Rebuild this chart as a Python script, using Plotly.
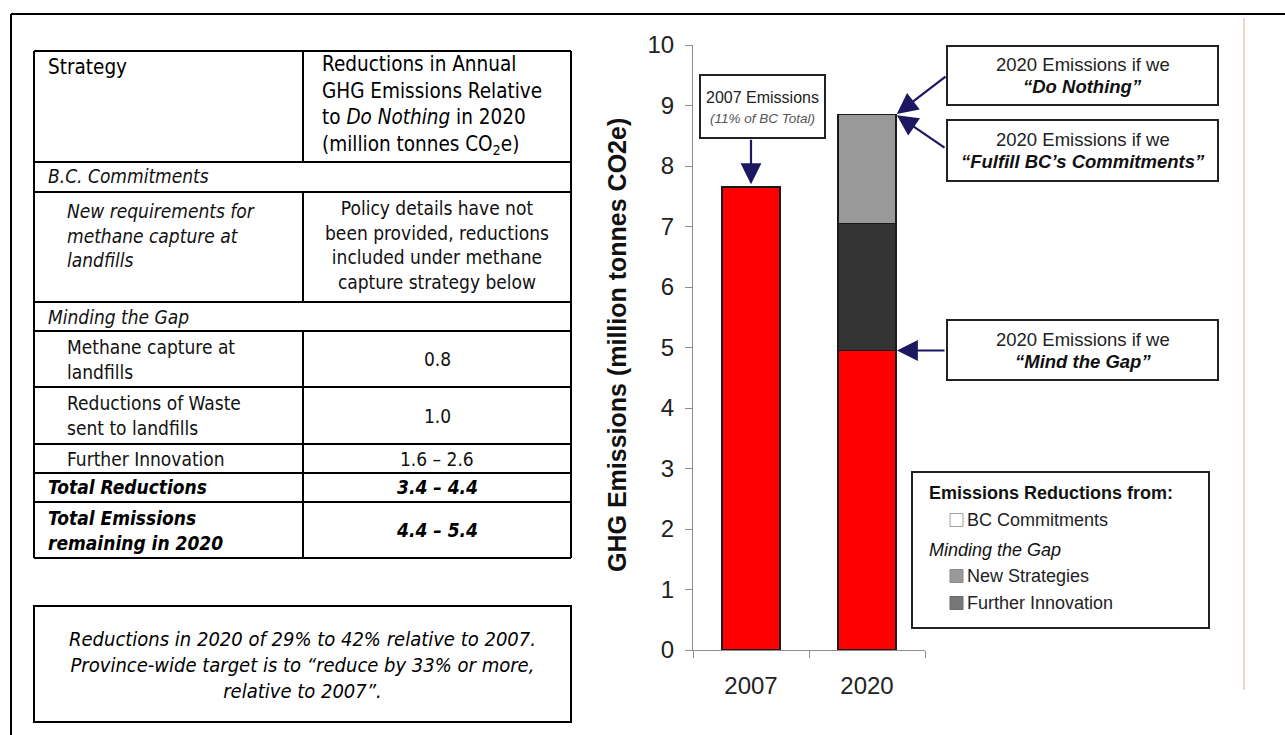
import plotly.graph_objects as go

W, H = 1285, 735

# ---- chart data (million tonnes CO2e) ----
years = ["2007", "2020"]
remaining = [7.65, 4.95]            # emissions left after all measures
further_innovation = [None, 2.1]    # reductions from further innovation
new_strategies = [None, 1.8]        # methane capture 0.8 + waste reduction 1.0
y_ticks = [0, 1, 2, 3, 4, 5, 6, 7, 8, 9, 10]

# ---- table content ----
header_left = "Strategy"
header_right = ("Reductions in Annual<br>GHG Emissions Relative<br>"
                "to <i>Do Nothing</i> in 2020<br>(million tonnes CO<sub>2</sub>e)")
section_titles = ["B.C. Commitments", "Minding the Gap"]
strategies = ["New requirements for<br>methane capture at<br>landfills",
              "Methane capture at<br>landfills",
              "Reductions of Waste<br>sent to landfills",
              "Further Innovation"]
strategy_reductions = ["Policy details have not<br>been provided, reductions<br>"
                       "included under methane<br>capture strategy below",
                       "0.8", "1.0", "1.6 – 2.6"]
total_labels = ["Total Reductions", "Total Emissions<br>remaining in 2020"]
total_values = ["3.4 – 4.4", "4.4 – 5.4"]
summary_note = ("Reductions in 2020 of 29% to 42% relative to 2007.<br>"
                "Province-wide target is to “reduce by 33% or more,<br>"
                "relative to 2007”.")

legend_title = "Emissions Reductions from:"
legend_group = "Minding the Gap"
legend_items = ["BC Commitments", "New Strategies", "Further Innovation"]

NARROW = "Liberation Sans Narrow, Arial Narrow, DejaVu Sans Condensed, sans-serif"
SANS = "Liberation Sans, Arial, Helvetica, sans-serif"
NAVY = "#1d1660"
RED = "#ff0000"
DARK = "#333333"
LIGHT = "#999999"


def px(x):
    return x / W


def py(y):
    return 1 - y / H


def label(x, y, s, size, anchor="center", color="#000", bold=False,
          italic=False, family=NARROW, angle=0):
    return dict(x=px(x), y=py(y), xref="paper", yref="paper", text=s,
                showarrow=False, xanchor=anchor, yanchor="middle",
                align=anchor if anchor != "center" else "center",
                textangle=angle, borderpad=0,
                font=dict(family=family, size=size, color=color,
                          weight="bold" if bold else "normal",
                          style="italic" if italic else "normal"))


def hline(x0, x1, y, color="#000", width=2):
    return dict(type="line", xref="paper", yref="paper", x0=px(x0), x1=px(x1),
                y0=py(y), y1=py(y), line=dict(color=color, width=width))


def vline(x, y0, y1, color="#000", width=2):
    return dict(type="line", xref="paper", yref="paper", x0=px(x), x1=px(x),
                y0=py(y0), y1=py(y1), line=dict(color=color, width=width))


def rect(x0, y0, x1, y1, line="#222", width=2, fill="white"):
    return dict(type="rect", xref="paper", yref="paper", x0=px(x0), x1=px(x1),
                y0=py(y1), y1=py(y0), line=dict(color=line, width=width),
                fillcolor=fill)


fig = go.Figure()
bar_line = dict(color="#1a1a1a", width=1.6)
fig.add_bar(x=years, y=remaining, marker=dict(color=RED, line=bar_line),
            width=0.5, name="Remaining")
fig.add_bar(x=years, y=further_innovation, marker=dict(color=DARK, line=bar_line),
            width=0.5, name="Further Innovation")
fig.add_bar(x=years, y=new_strategies, marker=dict(color=LIGHT, line=bar_line),
            width=0.5, name="New Strategies")

shapes = []
annotations = []

# outer frame
shapes.append(hline(11, W, 14))
shapes.append(vline(11, 14, H))
# thin red rule at the right
shapes.append(vline(1244, 18, 690, color="#f4a4a4", width=1))

# ---- table grid ----
TL, TM, TR = 34, 303, 571
rows = [51, 162, 192, 302, 331, 387, 444, 473, 502, 558]
section_rows = {1, 3}
for yb in rows:
    shapes.append(hline(TL, TR, yb))
shapes.append(vline(TL, rows[0], rows[-1]))
shapes.append(vline(TR, rows[0], rows[-1]))
for i in range(len(rows) - 1):
    if i not in section_rows:
        shapes.append(vline(TM, rows[i], rows[i + 1]))


def mid(i):
    return (rows[i] + rows[i + 1]) / 2


FH = 20.5   # header
FS = 19     # body
annotations.append(label(47, 67, header_left, FH, anchor="left"))
annotations.append(label(321, 105, header_right, FH, anchor="left"))
annotations.append(label(47, mid(1) - 1, section_titles[0], FS, anchor="left", italic=True, color="#111"))
annotations.append(label(66, 235, strategies[0], FS, anchor="left", italic=True, color="#111"))
annotations.append(label((TM + TR) / 2, 245, strategy_reductions[0], FS, color="#111"))
annotations.append(label(47, mid(3), section_titles[1], FS, anchor="left", italic=True, color="#111"))
for k, ri in enumerate([4, 5, 6], start=1):
    annotations.append(label(66, mid(ri), strategies[k], FS, anchor="left", color="#111"))
    annotations.append(label((TM + TR) / 2, mid(ri), strategy_reductions[k], FS, color="#111"))
for k, ri in enumerate([7, 8]):
    annotations.append(label(47, mid(ri), total_labels[k], FS, anchor="left", bold=True, italic=True))
    annotations.append(label((TM + TR) / 2, mid(ri), total_values[k], FS, bold=True, italic=True))

# summary box
shapes.append(rect(34, 606, 571, 722, line="#000"))
annotations.append(label((34 + 571) / 2, 665, summary_note, 20, italic=True))

# ---- callout boxes ----
shapes.append(rect(700, 75, 825, 138))
annotations.append(label(762.5, 97, "2007 Emissions", 16, family=SANS, color="#222"))
annotations.append(label(762.5, 118, "(11% of BC Total)", 13.5, family=SANS, color="#555", italic=True))

callouts = [
    (46, 105, "2020 Emissions if we", "“Do Nothing”"),
    (120, 181, "2020 Emissions if we", "“Fulfill BC’s Commitments”"),
    (320, 380, "2020 Emissions if we", "“Mind the Gap”"),
]
for top, bot, l1, l2 in callouts:
    shapes.append(rect(947, top, 1218, bot))
    c = (top + bot) / 2
    annotations.append(label(1082.5, c - 11, l1, 18.5, family=SANS, color="#222"))
    annotations.append(label(1082.5, c + 11, l2, 18.5, family=SANS, color="#111", bold=True, italic=True))

# arrows from callouts to the bars
total_2020 = remaining[1] + further_innovation[1] + new_strategies[1]
arrow = dict(text="", showarrow=True, xref="x", yref="y", axref="pixel", ayref="pixel",
             arrowhead=2, arrowsize=1.9, arrowwidth=2.2, arrowcolor=NAVY)
annotations.append(dict(arrow, x=0, y=remaining[0], ax=0, ay=-49, standoff=3))
annotations.append(dict(arrow, x=1.25, y=total_2020, ax=51, ay=-39, standoff=1))
annotations.append(dict(arrow, x=1.25, y=total_2020, ax=50, ay=34, standoff=1))
annotations.append(dict(arrow, x=1.25, y=remaining[1], ax=50, ay=0, standoff=1))

# ---- legend ----
shapes.append(rect(912, 472, 1209, 628))
annotations.append(label(928, 493, legend_title, 18, anchor="left", family=SANS, bold=True, color="#111"))
annotations.append(label(928, 550, legend_group, 18, anchor="left", family=SANS, italic=True, color="#111"))
swatches = [("white", "#a0a0a0", 520), (LIGHT, "#8a8a8a", 576), ("#777777", "#6a6a6a", 603)]
for name, (fill, edge, yy) in zip(legend_items, swatches):
    shapes.append(rect(950, yy - 6.5, 963, yy + 6.5, line=edge, width=1, fill=fill))
    annotations.append(label(966, yy, name, 18, anchor="left", family=SANS, color="#222"))

# y-axis title
annotations.append(label(617, 345, "GHG Emissions (million tonnes CO2e)", 25,
                         family=SANS, bold=True, color="#111", angle=-90))

fig.update_layout(
    width=W, height=H, barmode="stack", showlegend=False,
    margin=dict(l=0, r=0, t=0, b=0, pad=0, autoexpand=False),
    paper_bgcolor="white", plot_bgcolor="white",
    shapes=shapes, annotations=annotations,
    font=dict(family=SANS),
    xaxis=dict(domain=[px(693), px(925)], type="category", range=[-0.5, 1.5],
               automargin=False,
               showline=True, linecolor="#8c8c8c", linewidth=1,
               ticks="outside", tickson="boundaries", ticklen=7, tickcolor="#8c8c8c",
               tickfont=dict(family=SANS, size=24, color="#222"),
               ticklabelstandoff=14, showgrid=False, zeroline=False),
    yaxis=dict(domain=[py(650), py(45)], range=[0, 10], tickvals=y_ticks,
               automargin=False,
               showline=True, linecolor="#8c8c8c", linewidth=1,
               ticks="outside", ticklen=7, tickcolor="#8c8c8c",
               tickfont=dict(family=SANS, size=24, color="#222"),
               ticklabelstandoff=6, showgrid=False, zeroline=False),
)

fig.write_html("out.html")
